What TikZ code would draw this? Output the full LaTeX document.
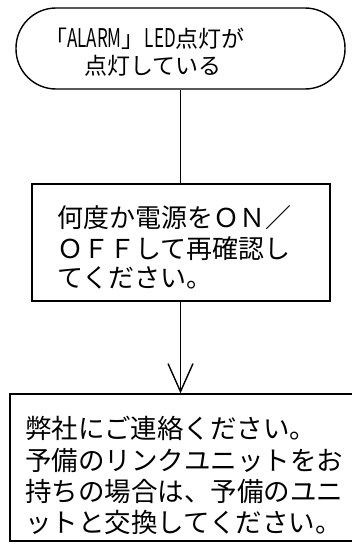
\documentclass[tikz,border=0pt]{standalone}
\usepackage{fontspec}
\newfontfamily\jp{Noto Sans CJK JP}
\usetikzlibrary{arrows.meta}
\begin{document}
\begin{tikzpicture}[x=1pt,y=-1pt,
  shape line/.style={draw=black, line width=1.4pt, inner sep=0pt},
  toptext/.style={anchor=base west, inner sep=0pt, font=\jp\fontsize{23}{28}\selectfont},
  boxtext/.style={anchor=base west, inner sep=0pt, font=\jp\fontsize{26}{31}\selectfont},
  bigtext/.style={anchor=base west, inner sep=0pt, font=\jp\fontsize{26.5}{31}\selectfont},
  flow/.style={draw=black, line width=1.4pt},
  flowarrow/.style={flow, -{Straight Barb[length=28pt,width=25pt,line width=1.4pt]}}]
\useasboundingbox (0,0) rectangle (352,546);
\fill[white] (0,0) rectangle (352,546);

% start (stadium)
\node[shape line, rounded corners=40pt, minimum width=329pt, minimum height=81pt] (start) at (180.5,48.5) {};
\node[toptext] (startA) at (44,47) {「\scalebox{0.74}[1.12]{ALARM}」\scalebox{0.74}[1.12]{LED}点灯が};
\node[toptext] (startB) at (84,74) {点灯している};

% box 2
\node[shape line, minimum width=298pt, minimum height=117pt] (box2) at (181,242.5) {};
\node[boxtext] (b2a) at (57,227) {何度か電源をＯＮ／};
\node[boxtext] (b2b) at (57,258) {ＯＦＦして再確認し};
\node[boxtext] (b2c) at (57,287) {てください。};

% box 3 (right edge runs off the page)
\node[shape line, minimum width=350pt, minimum height=147pt] (box3) at (185,467.5) {};
\node[bigtext] (b3a) at (25,438) {弊社にご連絡ください。};
\node[bigtext] (b3b) at (25,470) {予備のリンクユニットをお};
\node[bigtext] (b3c) at (25,501) {持ちの場合は、予備のユニ};
\node[bigtext] (b3d) at (25,532) {ットと交換してください。};

% connectors
\draw[flow] (start.south) -- (start.south |- box2.north);
\draw[flowarrow] (start.south |- box2.south) -- (start.south |- box3.north);
\end{tikzpicture}
\end{document}
